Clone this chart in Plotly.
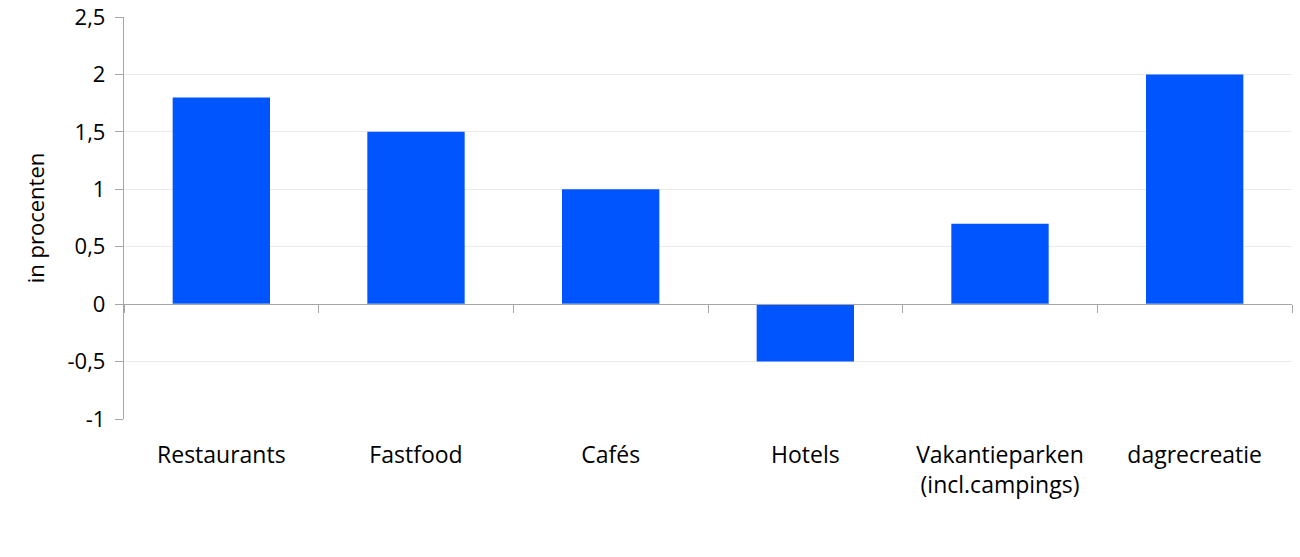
import plotly.graph_objects as go

categories = ["Restaurants", "Fastfood", "Cafés", "Hotels", "Vakantieparken<br>(incl.campings)", "dagrecreatie"]
values = [1.8, 1.5, 1.0, -0.5, 0.7, 2.0]
y_ticks = [-1, -0.5, 0, 0.5, 1, 1.5, 2, 2.5]
y_tick_labels = ["-1", "-0,5", "0", "0,5", "1", "1,5", "2", "2,5"]
y_range = [-1, 2.5]

bar_color = "#0055FF"
font_family = "Open Sans, Noto Sans, sans-serif"

fig = go.Figure()
fig.add_trace(go.Bar(x=categories, y=values, marker=dict(color=bar_color, line=dict(width=0)),
                     width=0.5, xaxis="x", yaxis="y", showlegend=False))
# invisible trace to drive the zero-line category axis
fig.add_trace(go.Bar(x=categories, y=[0] * len(categories), marker=dict(color="rgba(0,0,0,0)"),
                     xaxis="x2", yaxis="y", showlegend=False, hoverinfo="skip"))

zero_pos = (0 - y_range[0]) / (y_range[1] - y_range[0])

fig.update_layout(
    width=1300, height=557,
    margin=dict(l=124, r=8, t=17, b=138),
    paper_bgcolor="white", plot_bgcolor="white",
    font=dict(family=font_family, size=23, color="#000000"),
    bargap=0.5,
    xaxis=dict(type="category", range=[-0.5, 5.5], showline=False, showgrid=False, ticks="",
               zeroline=False, tickfont=dict(size=23), ticklabelstandoff=20, automargin=False),
    xaxis2=dict(type="category", range=[-0.5, 5.5], overlaying="x", anchor="free", position=zero_pos,
                side="bottom", showline=True, linecolor="#a6a6a6", linewidth=1.3,
                ticks="outside", tickson="boundaries", ticklen=8, tickcolor="#a6a6a6",
                showticklabels=False, showgrid=False, zeroline=False, automargin=False),
    yaxis=dict(range=y_range, tickvals=y_ticks, ticktext=y_tick_labels, showline=True,
               linecolor="#a6a6a6", linewidth=1.3, automargin=False,
               ticks="outside", ticklen=8, tickcolor="#a6a6a6", showgrid=True, gridcolor="#ebebeb",
               gridwidth=1, zeroline=False, tickfont=dict(size=22), ticklabelstandoff=5,
               title=dict(text="in procenten", font=dict(size=22), standoff=16)),
)

fig.write_html("out.html", config={"displayModeBar": False},
               post_script="document.body.style.margin='0';document.body.style.padding='0';document.body.style.overflow='hidden';")
